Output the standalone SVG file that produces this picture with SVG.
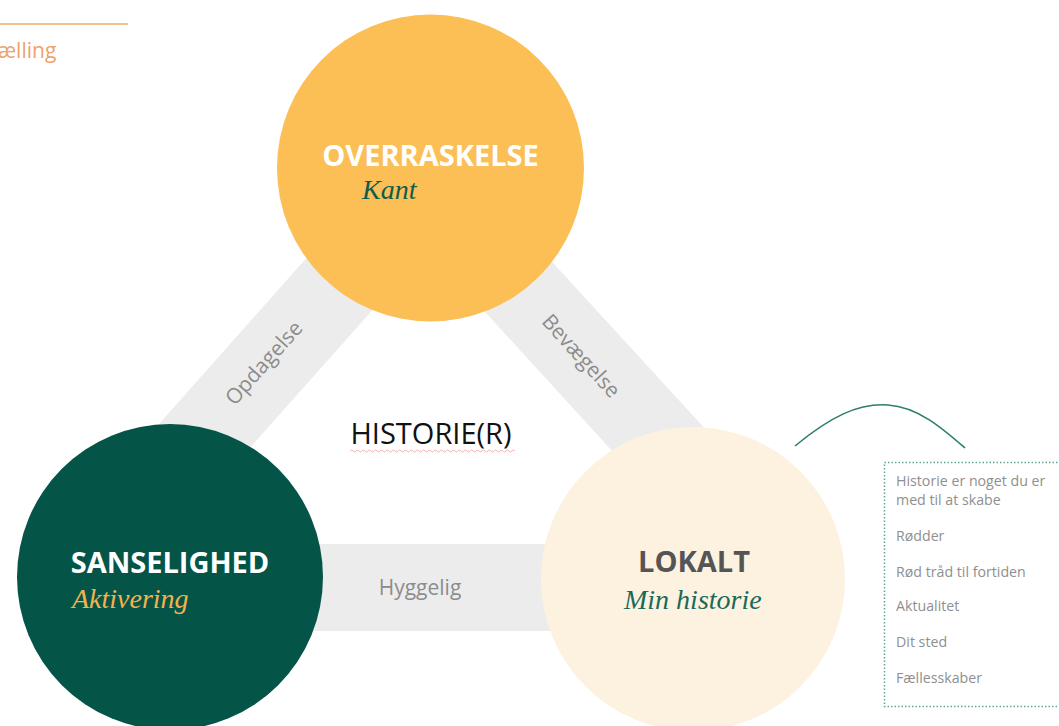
<svg xmlns="http://www.w3.org/2000/svg" width="1059" height="726" viewBox="0 0 1059 726">
<style>
.band{fill:#ececec}
.blabel{font-family:"Open Sans",sans-serif;font-size:21px;fill:#8c8c8c}
.title{font-family:"Open Sans",sans-serif;font-weight:bold;font-size:29px}
.script{font-family:"Liberation Serif",serif;font-style:italic;font-size:28px}
.note{font-family:"Open Sans",sans-serif;font-size:14.2px;fill:#8f8f8f}
</style>
<rect width="1059" height="726" fill="#ffffff"/>
<g id="header">
<line x1="0" y1="24" x2="128" y2="24" stroke="#f2a96a" stroke-width="1.5"/>
<text x="-2" y="58" font-family="Open Sans, sans-serif" font-size="21" fill="#eda36b">ælling</text>
</g>
<g id="connectors">
<polygon class="band" points="333,228 127,460 215,487 401,278"/>
<polygon class="band" points="521,228 731,457 645,487 456,280"/>
<rect class="band" x="250" y="544" width="370" height="87"/>
<text class="blabel" transform="translate(265,364) rotate(-48.4)" text-anchor="middle" dominant-baseline="middle">Opdagelse</text>
<text class="blabel" transform="translate(580,357) rotate(47.6)" text-anchor="middle" dominant-baseline="middle">Bevægelse</text>
<text class="blabel" x="420" y="595" text-anchor="middle" font-size="22">Hyggelig</text>
</g>
<g id="overraskelse">
<circle cx="430.5" cy="168" r="153.5" fill="#fcbf55"/>
<text class="title" x="430.5" y="166" text-anchor="middle" fill="#ffffff">OVERRASKELSE</text>
<text class="script" x="362" y="199" font-size="27" fill="#0e5d4d">Kant</text>
</g>
<g id="sanselighed">
<circle cx="170" cy="577" r="153" fill="#055448"/>
<text class="title" x="170" y="573" text-anchor="middle" fill="#ffffff">SANSELIGHED</text>
<text class="script" x="72" y="608" fill="#f4b24c">Aktivering</text>
</g>
<g id="lokalt">
<circle cx="693" cy="579" r="152" fill="#fdf2df"/>
<text class="title" x="694" y="572" text-anchor="middle" fill="#555555">LOKALT</text>
<text class="script" x="624" y="609" font-size="29" fill="#1a6a5c">Min historie</text>
</g>
<g id="historie">
<text x="431" y="444" text-anchor="middle" font-family="Open Sans, sans-serif" font-size="29" fill="#111111">HISTORIE(R)</text>
<path d="M350,451 q1.5,-2 3,0 t3,0 t3,0 t3,0 t3,0 t3,0 t3,0 t3,0 t3,0 t3,0 t3,0 t3,0 t3,0 t3,0 t3,0 t3,0 t3,0 t3,0 t3,0 t3,0 t3,0 t3,0 t3,0 t3,0 t3,0 t3,0 t3,0 t3,0 t3,0 t3,0 t3,0 t3,0 t3,0 t3,0 t3,0 t3,0 t3,0 t3,0 t3,0 t3,0 t3,0 t3,0 t3,0 t3,0 t3,0 t3,0 t3,0 t3,0 t3,0 t3,0 t3,0 t3,0 t3,0 t3,0 t3,0" fill="none" stroke="#f0a0a0" stroke-width="0.8"/>
</g>
<g id="arc">
<path d="M795,446 C830,417 858,403 888,405 C918,407 942,428 965,448" fill="none" stroke="#2e7d6e" stroke-width="1.6"/>
</g>
<g id="notes">
<rect x="884.5" y="462.5" width="190" height="244" fill="none" stroke="#5fa59a" stroke-width="1.5" stroke-dasharray="1.5,2"/>
<text class="note" x="896" y="486">Historie er noget du er</text>
<text class="note" x="896" y="505">med til at skabe</text>
<text class="note" x="896" y="541">Rødder</text>
<text class="note" x="896" y="577">Rød tråd til fortiden</text>
<text class="note" x="896" y="611">Aktualitet</text>
<text class="note" x="896" y="647">Dit sted</text>
<text class="note" x="896" y="683">Fællesskaber</text>
</g>
</svg>
